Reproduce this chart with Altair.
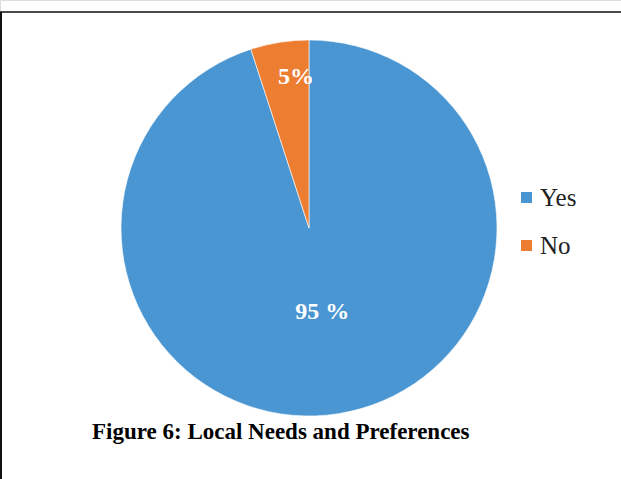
import altair as alt
import pandas as pd

# ---- data ----
categories = ["Yes", "No"]
values = [95, 5]
labels = ["95 %", "5%"]
slice_order = [0, 1]
colors = ["#4a96d3", "#ed7d31"]
title_text = "Figure 6: Local Needs and Preferences"

df = pd.DataFrame({"category": categories, "value": values,
                   "label": labels, "ord": slice_order})

CX, CY, R = 309, 228, 188
W, H = 621, 479

base = alt.Chart(df).encode(
    theta=alt.Theta("value:Q", stack=True),
    order=alt.Order("ord:Q"),
)

pie = base.mark_arc(radius=R, stroke="white", strokeWidth=0.6).encode(
    x=alt.value(CX),
    y=alt.value(CY),
    color=alt.Color(
        "category:N",
        scale=alt.Scale(domain=categories, range=colors),
        sort=categories,
        legend=alt.Legend(
            title=None, orient="none", legendX=514, legendY=185,
            symbolType="square", symbolSize=121, symbolStrokeWidth=0,
            labelFont="Liberation Serif", labelFontSize=25,
            labelColor="#222222", rowPadding=22, labelOffset=1,
        ),
    ),
)

lbl_style = dict(font="Liberation Serif", fontWeight="bold", fontSize=24,
                 color="white", align="center", baseline="middle")

lbl_no = base.mark_text(radius=153, dx=11, **lbl_style).encode(
    x=alt.value(CX), y=alt.value(CY),
    text=alt.condition(alt.datum.category == "No", alt.Text("label:N"), alt.value("")),
)
lbl_yes = base.mark_text(radius=85, **lbl_style).encode(
    x=alt.value(CX), y=alt.value(CY),
    text=alt.condition(alt.datum.category == "Yes", alt.Text("label:N"), alt.value("")),
)

tdf = pd.DataFrame({"t": [title_text]})
title = alt.Chart(tdf).mark_text(
    align="left", baseline="alphabetic", font="Liberation Serif",
    fontWeight="bold", fontSize=23, color="black",
).encode(text="t:N", x=alt.value(92), y=alt.value(439))

top_line = alt.Chart(tdf).mark_rule(color="#4a4a4a", strokeWidth=2).encode(
    x=alt.value(0), x2=alt.value(W), y=alt.value(12))
left_line = alt.Chart(tdf).mark_rule(color="#111111", strokeWidth=2).encode(
    x=alt.value(1), y=alt.value(12), y2=alt.value(H))

chart = alt.layer(pie, lbl_no, lbl_yes, title, top_line, left_line).properties(
    width=W, height=H, padding=0,
    autosize=alt.AutoSizeParams(type="none"),
).configure_view(stroke=None).configure(background="white")

chart.save("out.html", embed_options={"renderer": "svg", "actions": False})
